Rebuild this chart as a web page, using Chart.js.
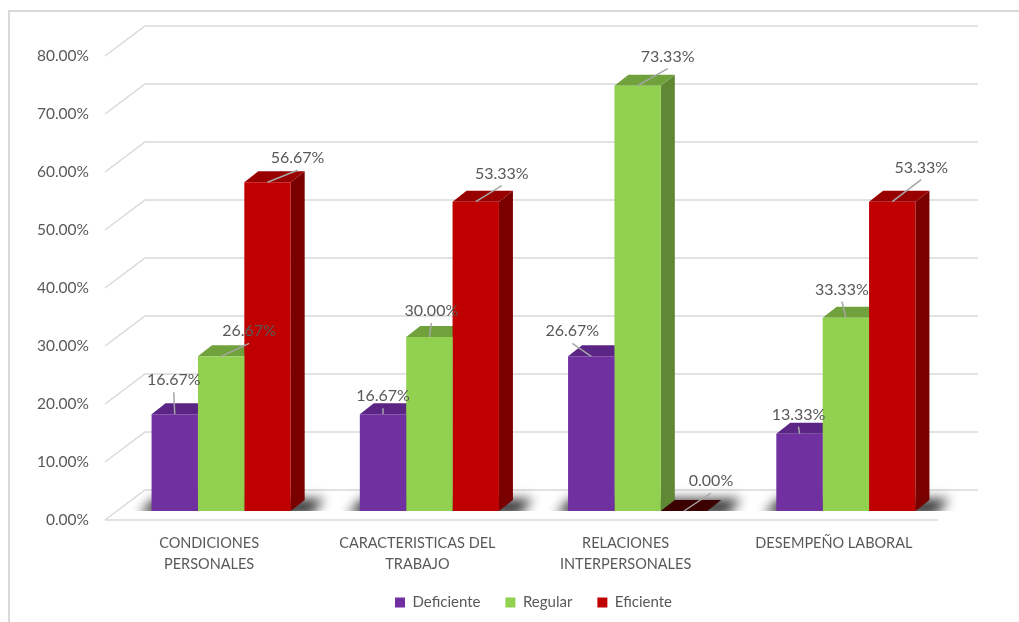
<!DOCTYPE html>
<html>
<head>
<meta charset="utf-8">
<title>Chart</title>
<script src="https://cdn.jsdelivr.net/npm/chart.js@4.4.1/dist/chart.umd.min.js"></script>
<style>
    html, body { margin: 0; padding: 0; background: #fff; overflow: hidden; }
    #wrap { position: relative; width: 1019px; height: 622px; }
    #frame { position: absolute; left: 8px; top: 10px; right: 0; bottom: 0; border-top: 2px solid #d9d9d9; border-left: 2px solid #d9d9d9; }
    canvas { position: absolute; left: 0; top: 0; }
</style>
</head>
<body>
<div id="wrap">
    <div id="frame"></div>
    <canvas id="chart" width="1019" height="622"></canvas>
</div>
<script>
// Data
const categories = [
    ['CONDICIONES', 'PERSONALES'],
    ['CARACTERISTICAS DEL', 'TRABAJO'],
    ['RELACIONES', 'INTERPERSONALES'],
    ['DESEMPEÑO LABORAL']
];
const deficiente = [16.67, 16.67, 26.67, 13.33];
const regular = [26.67, 30.00, 73.33, 33.33];
const eficiente = [56.67, 53.33, 0.00, 53.33];
const yTicks = [0, 10, 20, 30, 40, 50, 60, 70, 80];

// Where each value label sits, relative to the top of its bar (like Excel's dragged labels)
const labelNudges = [
    [[-1, -34], [0, -18], [-19, -25], [-1, -19]],
    [[28, -25], [2, -26], [30, -29], [-4, -28]],
    [[30, -24], [26, -28], [27, -30], [29, -34]]
];

const TEXT = '#595959';
const GRID = '#d9d9d9';

// 3D look
const WALL_FRONT = 9;   // front wall sits below the bar baseline
const WALL_INSET = 12;
const WALL_DX = 40, WALL_DY = 30;
const BAR_DX = 14, BAR_DY = 11;

function poly(ctx, pts) {
    ctx.beginPath();
    ctx.moveTo(pts[0][0], pts[0][1]);
    for (let i = 1; i < pts.length; i++) ctx.lineTo(pts[i][0], pts[i][1]);
    ctx.closePath();
    ctx.fill();
}

const bar3d = {
    id: 'bar3d',
    beforeDatasetsDraw(chart) {
        const { ctx, chartArea: area, scales: { y } } = chart;
        const metas = chart.data.datasets.map((d, i) => chart.getDatasetMeta(i));

        // walls and floor
        ctx.save();
        ctx.strokeStyle = GRID;
        ctx.lineWidth = 1.5;
        yTicks.forEach(v => {
            const yf = y.getPixelForValue(v) + WALL_FRONT;
            const xf = area.left - WALL_INSET;
            ctx.beginPath();
            ctx.moveTo(xf, yf);
            ctx.lineTo(xf + WALL_DX, yf - WALL_DY);
            ctx.lineTo(area.right - WALL_INSET + WALL_DX, yf - WALL_DY);
            ctx.stroke();
        });
        const y0 = y.getPixelForValue(0) + WALL_FRONT;
        ctx.beginPath();
        ctx.moveTo(area.left - WALL_INSET, y0);
        ctx.lineTo(area.right - WALL_INSET, y0);
        ctx.stroke();
        ctx.restore();

        // shadows on the floor
        categories.forEach((c, i) => {
            const first = metas[0].data[i];
            const last = metas[metas.length - 1].data[i];
            const x0 = first.x - first.width / 2;
            const x1 = last.x + last.width / 2;
            const b = first.base;
            ctx.save();
            ctx.beginPath();
            ctx.rect(area.left - 60, area.top, area.width + 120, b - area.top);
            ctx.clip();
            ctx.filter = 'blur(6px)';
            ctx.fillStyle = 'rgba(0,0,0,0.8)';
            poly(ctx, [[x0 - 12, b + 4], [x1 + 20, b + 4], [x1 + 34, b - 12], [x0 + 2, b - 12]]);
            ctx.restore();
        });

        // side and top faces
        ctx.save();
        categories.forEach((c, i) => {
            metas.forEach((m, di) => {
                const ds = chart.data.datasets[di];
                const bar = m.data[i];
                const l = bar.x - bar.width / 2, r = bar.x + bar.width / 2;
                const t = bar.y, b = bar.base;
                ctx.fillStyle = ds.sideColor;
                poly(ctx, [[r, t], [r + BAR_DX, t - BAR_DY], [r + BAR_DX, b - BAR_DY], [r, b]]);
                ctx.fillStyle = (b - t) < 1 ? ds.flatColor : ds.topColor;
                poly(ctx, [[l, t], [l + BAR_DX, t - BAR_DY], [r + BAR_DX, t - BAR_DY], [r, t]]);
            });
        });
        ctx.restore();
    },
    afterDatasetsDraw(chart) {
        const { ctx } = chart;
        ctx.save();
        ctx.font = '16px Lato';
        ctx.textAlign = 'center';
        ctx.textBaseline = 'middle';
        chart.data.datasets.forEach((ds, di) => {
            chart.getDatasetMeta(di).data.forEach((bar, i) => {
                const [dx, dy] = labelNudges[di][i];
                const tx = bar.x + dx, ty = bar.y + dy;
                if (bar.y - (ty + 12) > 4) {
                    ctx.strokeStyle = '#a6a6a6';
                    ctx.lineWidth = 1.5;
                    ctx.beginPath();
                    ctx.moveTo(tx, ty + 12);
                    ctx.lineTo(bar.x, bar.y);
                    ctx.stroke();
                }
                ctx.fillStyle = TEXT;
                ctx.fillText(ds.data[i].toFixed(2) + '%', tx, ty);
            });
        });
        ctx.restore();
    }
};

Chart.defaults.font.family = 'Lato';
Chart.defaults.color = TEXT;

new Chart(document.getElementById('chart'), {
    type: 'bar',
    data: {
        labels: categories,
        datasets: [
            { label: 'Deficiente', data: deficiente, backgroundColor: '#7030a0', topColor: '#5a2585', sideColor: '#4a1f6d', flatColor: '#3a1856' },
            { label: 'Regular', data: regular, backgroundColor: '#92d050', topColor: '#70a13c', sideColor: '#5e8833', flatColor: '#3f5c22' },
            { label: 'Eficiente', data: eficiente, backgroundColor: '#c00000', topColor: '#990000', sideColor: '#7a0000', flatColor: '#3d0000' }
        ]
    },
    options: {
        responsive: false,
        animation: false,
        devicePixelRatio: 1,
        datasets: {
            bar: { categoryPercentage: 0.668, barPercentage: 1, borderWidth: 0 }
        },
        layout: { padding: { top: 47, right: 69, left: 0, bottom: 2 } },
        scales: {
            x: {
                grid: { display: false, drawTicks: false },
                border: { display: false },
                ticks: { padding: 22, labelOffset: -12, color: TEXT, font: { size: 14.5, lineHeight: 1.45 }, maxRotation: 0 },
                afterFit(scale) { scale.height = 59; }
            },
            y: {
                min: 0,
                max: 80,
                grid: { display: false, drawTicks: false },
                border: { display: false },
                ticks: {
                    stepSize: 10,
                    padding: 28,
                    labelOffset: 9,
                    color: TEXT,
                    font: { size: 15.5 },
                    callback: v => v.toFixed(2) + '%'
                },
                afterFit(scale) { scale.width = 117; }
            }
        },
        plugins: {
            legend: {
                position: 'bottom',
                fullSize: false,
                labels: { boxWidth: 10, boxHeight: 10, padding: 25, color: TEXT, font: { size: 15 } }
            },
            tooltip: { enabled: false }
        }
    },
    plugins: [bar3d]
});
</script>
</body>
</html>
